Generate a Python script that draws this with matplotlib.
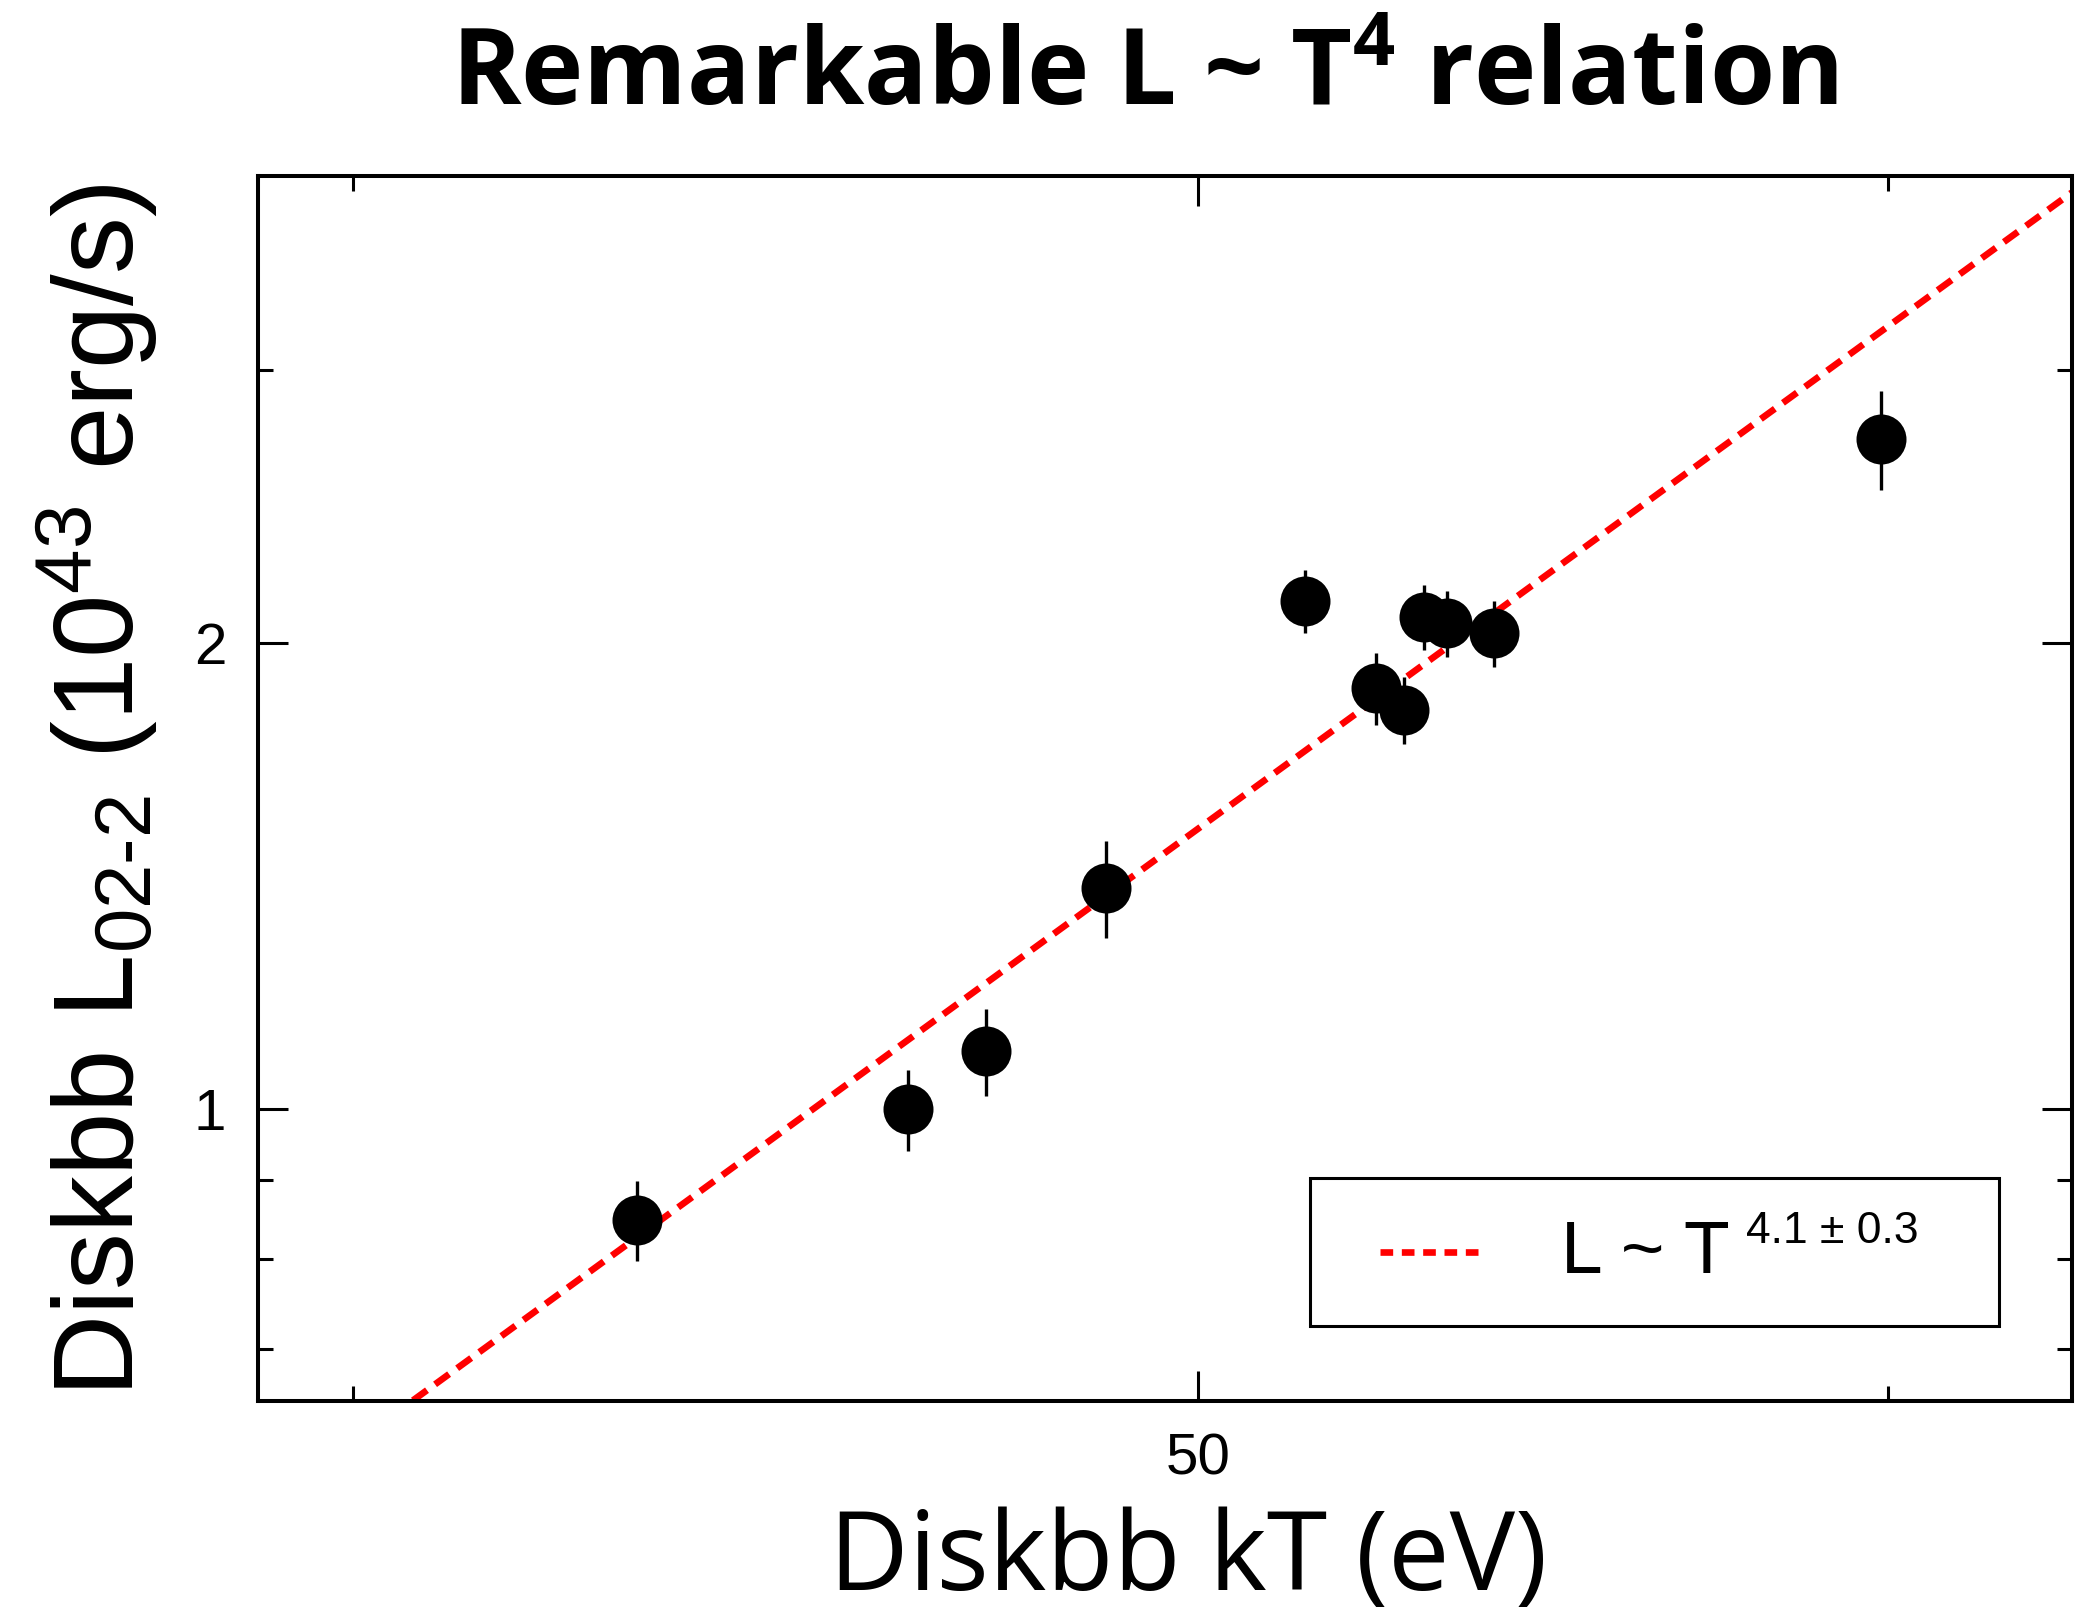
import numpy as np
import matplotlib
matplotlib.use("Agg")
import matplotlib.pyplot as plt
from matplotlib.patches import Rectangle
from matplotlib.lines import Line2D
from matplotlib.ticker import FixedLocator, NullFormatter

plt.rcParams["font.family"] = ["Liberation Sans", "DejaVu Sans"]
plt.rcParams["mathtext.fontset"] = "custom"
plt.rcParams["mathtext.rm"] = "Liberation Sans"
plt.rcParams["mathtext.it"] = "Liberation Sans:italic"
plt.rcParams["mathtext.bf"] = "Open Sans:bold"

# disk blackbody temperature (eV) and 0.2-2 keV luminosity (1e43 erg/s)
kT = [43.11, 46.31, 47.28, 48.80, 51.43, 52.41, 52.80, 53.08, 53.40, 54.07, 59.89]
lum = [0.848, 1.00, 1.09, 1.39, 2.13, 1.87, 1.81, 2.08, 2.06, 2.03, 2.71]
lum_err = [0.05, 0.06, 0.07, 0.10, 0.10, 0.10, 0.09, 0.10, 0.10, 0.10, 0.20]

# power-law fit L = norm * (kT / pivot) ** index
fit_index = 4.1
fit_index_err = 0.3
fit_norm = 1.517
fit_pivot = 50.0

x_range = (39.01, 62.98)
y_range = (0.648, 4.006)

fig = plt.figure(figsize=(21, 16.13), dpi=100)
ax = fig.add_axes([0.1230, 0.1316, 0.8635, 0.7593])

t_line = np.array(x_range)
ax.plot(t_line, fit_norm * (t_line / fit_pivot) ** fit_index,
        color="#ff0000", lw=4.8, linestyle=(0, (2.6, 1.5)), zorder=1)

ax.errorbar(kT, lum, yerr=lum_err, fmt="none", ecolor="black",
            elinewidth=2.4, capsize=0, zorder=2)
ax.plot(kT, lum, "o", color="black", ms=36, mew=0, zorder=3)

ax.set_xscale("log")
ax.set_yscale("log")
ax.set_xlim(*x_range)
ax.set_ylim(*y_range)

ax.xaxis.set_major_locator(FixedLocator([50]))
ax.xaxis.set_minor_locator(FixedLocator([40, 60]))
ax.yaxis.set_major_locator(FixedLocator([1, 2]))
ax.yaxis.set_minor_locator(FixedLocator([0.7, 0.8, 0.9, 3]))
ax.xaxis.set_major_formatter(lambda v, p: "%g" % v)
ax.yaxis.set_major_formatter(lambda v, p: "%g" % v)
ax.xaxis.set_minor_formatter(NullFormatter())
ax.yaxis.set_minor_formatter(NullFormatter())

ax.tick_params(which="both", direction="in", top=True, right=True,
               width=2.2, labelsize=42, pad=23)
ax.tick_params(which="major", length=21.6)
ax.tick_params(which="minor", length=10.8)
for s in ax.spines.values():
    s.set_linewidth(2.9)

# legend box drawn by hand
ax.add_patch(Rectangle((0.5798, 0.0612), 0.3800, 0.1204, transform=ax.transAxes,
                       fill=False, lw=2.2, edgecolor="black", zorder=4))
ax.add_line(Line2D([0.6188, 0.6763], [0.1212, 0.1212], transform=ax.transAxes,
                   color="#ff0000", lw=4.8, linestyle=(0, (1.9, 1.3)), zorder=5))
ax.text(0.7184, 0.1040, "L ~ T", transform=ax.transAxes, fontsize=54,
        ha="left", va="baseline", zorder=5)
ax.text(0.8205, 0.1285, "%.1f ± %.1f" % (fit_index, fit_index_err),
        transform=ax.transAxes, fontsize=32, ha="left", va="baseline", zorder=5)

fig.text(0.545, 0.9352, r"Remarkable L ~ T$^{\mathbf{4}}$ relation",
         family="Open Sans", fontweight="bold", fontsize=76,
         ha="center", va="baseline")

ax.set_xlabel("Diskbb kT (eV)", family="Open Sans", fontsize=79)
ax.xaxis.set_label_coords(0.5127, -0.1545)
ax.xaxis.label.set_va("baseline")

ax.set_ylabel(r"Diskbb L$_{\text{02-2}}$ (10$^{\mathrm{43}}$ erg/s)", fontsize=82,
              rotation=90, rotation_mode="anchor")
ax.yaxis.set_label_coords(-0.0687, 0.498)
ax.yaxis.label.set_va("baseline")
ax.yaxis.label.set_ha("center")

fig.savefig("out.png", dpi=100)
